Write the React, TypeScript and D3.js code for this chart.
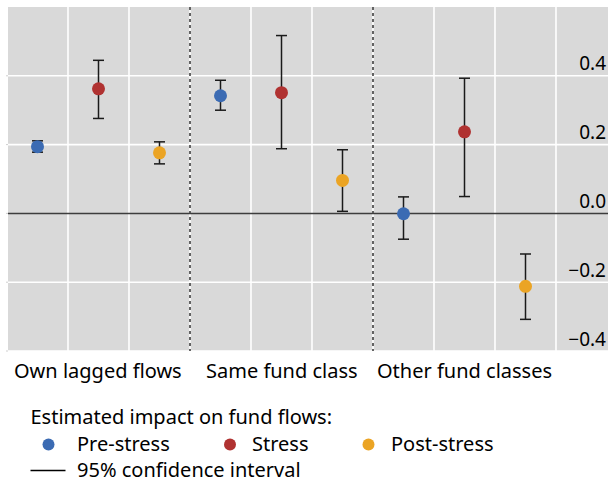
import React from "react";
import * as d3 from "d3";

const groups = ["Own lagged flows", "Same fund class", "Other fund classes"];
const seriesNames = ["Pre-stress", "Stress", "Post-stress"];
const seriesColors = ["#3b6bb3", "#b03231", "#eba424"];
// values per group, per series
const estimates = [
  [0.194, 0.362, 0.176],
  [0.342, 0.351, 0.096],
  [-0.001, 0.237, -0.212],
];
const lowerCI = [
  [0.178, 0.276, 0.144],
  [0.300, 0.188, 0.006],
  [-0.075, 0.049, -0.308],
];
const upperCI = [
  [0.211, 0.445, 0.208],
  [0.387, 0.517, 0.185],
  [0.048, 0.393, -0.118],
];
const yTicks = [-0.4, -0.2, 0.0, 0.2, 0.4];
const legendTitle = "Estimated impact on fund flows:";
const ciLabel = "95% confidence interval";

const W = 608;
const H = 481;
const FONT = "'Noto Sans', 'Open Sans', sans-serif";

export default function App() {
  const left = 8;
  const right = 608;
  const top = 7;
  const bottom = 351;
  const x = d3.scaleLinear().domain([0, 10]).range([7, 7 + 10 * 61]);
  const y = d3.scaleLinear().domain([-0.4, 0.6]).range([bottom, top]);
  const gridXs = d3.range(1, 10).map((i) => x(i)).filter((v) => v < right);
  const fmt = (v: number) => (v < 0 ? "\u2212" + Math.abs(v).toFixed(1) : v.toFixed(1));

  const points: { gx: number; v: number; lo: number; hi: number; c: string }[] = [];
  groups.forEach((g, gi) => {
    seriesNames.forEach((s, si) => {
      points.push({
        gx: x(gi * 3 + si + 0.5),
        v: estimates[gi][si],
        lo: lowerCI[gi][si],
        hi: upperCI[gi][si],
        c: seriesColors[si],
      });
    });
  });

  const labelXs = [14, 206, 377];
  const legendDotX = [48.5, 230, 368.5];
  const legendTextX = [77, 252, 391];

  return (
    <svg
      width={W}
      height={H}
      style={{ position: "absolute", left: 0, top: 0, fontFamily: FONT }}
    >
      <rect x={0} y={0} width={W} height={H} fill="#ffffff" />
      <rect x={left} y={top} width={right - left} height={bottom - top} fill="#d9d9d9" />
      {gridXs.map((gx, i) => (
        <line key={"vx" + i} x1={gx} x2={gx} y1={top} y2={bottom} stroke="#ffffff" strokeWidth={1.6} />
      ))}
      {yTicks.filter((t) => t !== 0).map((t) => (
        <line key={"gy" + t} x1={left} x2={right} y1={y(t)} y2={y(t)} stroke="#ffffff" strokeWidth={1.6} />
      ))}
      {yTicks.map((t) => (
        <line key={"tk" + t} x1={left - 2} x2={left} y1={y(t)} y2={y(t)} stroke="#cfcfcf" strokeWidth={1} />
      ))}
      {/* group separators */}
      {[3, 6].map((i) => (
        <line
          key={"sep" + i}
          x1={x(i)}
          x2={x(i)}
          y1={top}
          y2={bottom}
          stroke="#000000"
          strokeWidth={1.2}
          strokeDasharray="3 3"
        />
      ))}
      {/* zero line */}
      <line x1={left} x2={right} y1={y(0)} y2={y(0)} stroke="#3d3d3d" strokeWidth={1.5} />
      {/* y labels */}
      {yTicks.map((t) => (
        <text key={"yl" + t} x={606} y={y(t) - 5.5} textAnchor="end" fontSize={19} fill="#000">
          {fmt(t)}
        </text>
      ))}
      {/* error bars */}
      {points.map((p, i) => (
        <g key={"e" + i} stroke="#1a1a1a" strokeWidth={1.5}>
          <line x1={p.gx} x2={p.gx} y1={y(p.hi)} y2={y(p.lo)} />
          <line x1={p.gx - 5.5} x2={p.gx + 5.5} y1={y(p.hi)} y2={y(p.hi)} />
          <line x1={p.gx - 5.5} x2={p.gx + 5.5} y1={y(p.lo)} y2={y(p.lo)} />
        </g>
      ))}
      {points.map((p, i) => (
        <circle key={"c" + i} cx={p.gx} cy={y(p.v)} r={6.5} fill={p.c} />
      ))}
      {/* category labels */}
      {groups.map((g, i) => (
        <text key={"g" + i} x={labelXs[i]} y={377.5} fontSize={20} fill="#000">
          {g}
        </text>
      ))}
      {/* legend */}
      <text x={30.5} y={424} fontSize={20} fill="#000">
        {legendTitle}
      </text>
      {seriesNames.map((s, i) => (
        <g key={"lg" + i}>
          <circle cx={legendDotX[i]} cy={444.5} r={6} fill={seriesColors[i]} />
          <text x={legendTextX[i]} y={451} fontSize={20} fill="#000">
            {s}
          </text>
        </g>
      ))}
      <line x1={30.5} x2={65.5} y1={470.5} y2={470.5} stroke="#000" strokeWidth={1.4} />
      <text x={77} y={476.5} fontSize={20} fill="#000">
        {ciLabel}
      </text>
    </svg>
  );
}
